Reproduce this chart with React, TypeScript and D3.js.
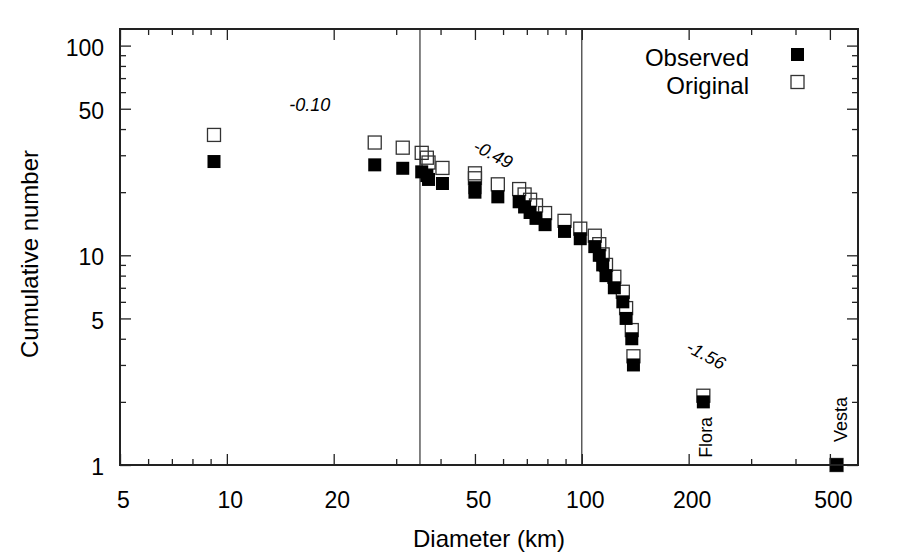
import { useEffect, useRef } from "react";
import * as d3 from "d3";

// asteroid diameters (km), same for both series
const diameterKm = [9.2, 26.1, 31.3, 35.4, 36.6, 37.0, 40.5, 50.0, 50.0, 58.0, 66.6, 69.0, 71.5, 74.3, 78.8, 89.4, 99.0, 108.8, 112, 114.5, 117, 123.5, 130.5, 133.3, 138.3, 139.8, 220, 522];
const observedN = [28, 27, 26, 25, 24, 23, 22, 21, 20, 19, 18, 17, 16, 15, 14, 13, 12, 11, 10, 9, 8, 7, 6, 5, 4, 3, 2, 1];
const originalN = [37.5, 34.5, 32.6, 30.8, 29.2, 27.7, 26.1, 24.6, 23.3, 21.8, 20.7, 19.5, 18.4, 17.3, 15.9, 14.6, 13.4, 12.4, 11.3, 10.1, 9.0, 7.9, 6.7, 5.6, 4.4, 3.3, 2.14, 1];

const xMajorTicks = [5, 10, 20, 50, 100, 200, 500];
const xMinorTicks = [6, 7, 8, 9, 30, 40, 60, 70, 80, 90, 300, 400];
const yMajorTicks = [1, 5, 10, 50, 100];
const yMinorTicks = [2, 3, 4, 6, 7, 8, 9, 20, 30, 40, 60, 70, 80, 90];

// break diameters between the slope regimes
const breakKm = [35, 100];
// slope annotations: text, diameter, number, rotation
const slopeText = ["-0.10", "-0.49", "-1.56"];
const slopeKm = [15, 56.3, 224];
const slopeN = [48.8, 30.4, 3.35];
const slopeAngle = [0, 27, 28];

const FONT = "'Liberation Sans', Arial, Helvetica, sans-serif";

export default function App() {
    const svgRef = useRef(null);

    useEffect(() => {
        const svg = d3.select(svgRef.current);
        svg.selectAll("*").remove();

        var margin = { top: 29, right: 42, bottom: 90, left: 120 },
            width = 900 - margin.left - margin.right,
            height = 555 - margin.top - margin.bottom;

        const g = svg.append("g").attr("transform", `translate(${margin.left}, ${margin.top})`);

        const x = d3.scaleLog().domain([5, 600]).range([0, width]);
        const y = d3.scaleLog().domain([1, 120]).range([height, 0]);

        // vertical break lines
        g.selectAll(".brk").data(breakKm).enter().append("line")
            .attr("x1", (d) => x(d)).attr("x2", (d) => x(d))
            .attr("y1", 0).attr("y2", height)
            .attr("stroke", "#333").attr("stroke-width", 1.2);

        const pts = diameterKm.map((d, i) => ({ d, obs: observedN[i], orig: originalN[i] }));
        const s = 13;

        // original (open squares) first, observed drawn on top
        g.selectAll(".orig").data(pts).enter().append("rect")
            .attr("x", (p) => x(p.d) - s / 2).attr("y", (p) => y(p.orig) - s / 2)
            .attr("width", s).attr("height", s)
            .attr("fill", "none").attr("stroke", "#333").attr("stroke-width", 1.3);

        g.selectAll(".obs").data(pts).enter().append("rect")
            .attr("x", (p) => x(p.d) - s / 2).attr("y", (p) => y(p.obs) - s / 2)
            .attr("width", s).attr("height", s)
            .attr("fill", "#000");

        // axes with inward ticks
        const styleAxis = (sel) => {
            sel.select(".domain").remove();
            sel.selectAll("line").attr("stroke", "#222").attr("stroke-width", 1.3);
            sel.selectAll("text").attr("font-family", FONT).attr("font-size", 23).attr("fill", "#000");
        };

        g.append("g").attr("transform", `translate(0, ${height})`)
            .call(d3.axisBottom(x).tickValues(xMajorTicks).tickSize(-11).tickPadding(27).tickFormat(d3.format("d")))
            .call(styleAxis)
            .selectAll("text").attr("dx", 3);
        g.append("g").attr("transform", `translate(0, ${height})`)
            .call(d3.axisBottom(x).tickValues(xMinorTicks).tickSize(-6).tickFormat(() => ""))
            .call(styleAxis);
        g.append("g")
            .call(d3.axisTop(x).tickValues(xMajorTicks).tickSize(-11).tickFormat(() => ""))
            .call(styleAxis);
        g.append("g")
            .call(d3.axisTop(x).tickValues(xMinorTicks).tickSize(-6).tickFormat(() => ""))
            .call(styleAxis);

        g.append("g")
            .call(d3.axisLeft(y).tickValues(yMajorTicks).tickSize(-11).tickPadding(16).tickFormat(d3.format("d")))
            .call(styleAxis)
            .selectAll("text").attr("dy", "0.42em");
        g.append("g")
            .call(d3.axisLeft(y).tickValues(yMinorTicks).tickSize(-6).tickFormat(() => ""))
            .call(styleAxis);
        g.append("g").attr("transform", `translate(${width}, 0)`)
            .call(d3.axisRight(y).tickValues(yMajorTicks).tickSize(-11).tickFormat(() => ""))
            .call(styleAxis);
        g.append("g").attr("transform", `translate(${width}, 0)`)
            .call(d3.axisRight(y).tickValues(yMinorTicks).tickSize(-6).tickFormat(() => ""))
            .call(styleAxis);

        // frame
        g.append("rect")
            .attr("width", width).attr("height", height)
            .attr("fill", "none").attr("stroke", "#222").attr("stroke-width", 2);

        // slope annotations
        slopeText.forEach((t, i) => {
            g.append("text")
                .attr("transform", `translate(${x(slopeKm[i])}, ${y(slopeN[i])}) rotate(${slopeAngle[i]})`)
                .attr("text-anchor", i === 0 ? "start" : "middle")
                .attr("dy", i === 0 ? 0 : "0.35em")
                .attr("font-family", FONT).attr("font-size", 18).attr("font-style", "italic")
                .text(t);
        });

        // Flora and Vesta labels
        const flora = pts[26], vesta = pts[27];
        g.append("text")
            .attr("transform", `translate(${x(flora.d) + 9}, ${y(flora.obs) + 56}) rotate(-90)`)
            .attr("font-family", FONT).attr("font-size", 18)
            .text("Flora");
        g.append("text")
            .attr("transform", `translate(${x(vesta.d) + 10}, ${y(vesta.obs) - 23}) rotate(-90)`)
            .attr("font-family", FONT).attr("font-size", 18)
            .text("Vesta");

        // legend
        const legend = svg.append("g").attr("transform", "translate(749, 0)");
        legend.append("text").attr("x", 0).attr("y", 66).attr("text-anchor", "end")
            .attr("font-family", FONT).attr("font-size", 24).text("Observed");
        legend.append("text").attr("x", 0).attr("y", 94).attr("text-anchor", "end")
            .attr("font-family", FONT).attr("font-size", 24).text("Original");
        legend.append("rect").attr("x", 42).attr("y", 48).attr("width", s).attr("height", s).attr("fill", "#000");
        legend.append("rect").attr("x", 42).attr("y", 75.5).attr("width", s).attr("height", s)
            .attr("fill", "none").attr("stroke", "#333").attr("stroke-width", 1.3);

        // axis titles
        svg.append("text")
            .attr("x", margin.left + width / 2).attr("y", 547)
            .attr("text-anchor", "middle")
            .attr("font-family", FONT).attr("font-size", 24)
            .text("Diameter (km)");
        svg.append("text")
            .attr("transform", `translate(38, ${margin.top + height / 2 + 7}) rotate(-90)`)
            .attr("text-anchor", "middle")
            .attr("font-family", FONT).attr("font-size", 24)
            .text("Cumulative number");
    }, []);

    return (
        <svg ref={svgRef} width={900} height={555}
            style={{ position: "absolute", left: 0, top: 0, background: "#fff" }}></svg>
    );
}
